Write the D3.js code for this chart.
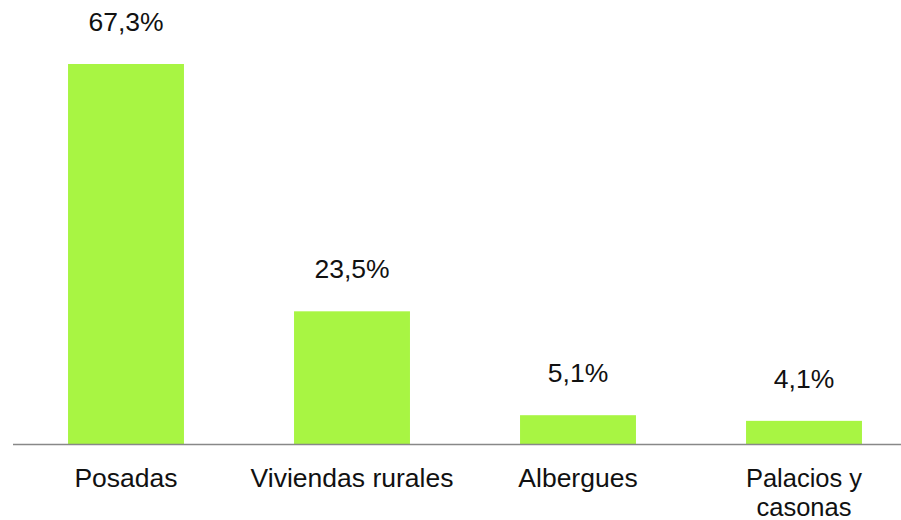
<!DOCTYPE html>
<html>
<head>
<meta charset="utf-8">
<script src="https://cdn.jsdelivr.net/npm/d3@7"></script>
<style>
  body { margin: 0; background: #fff; }
  text { font-family: "Liberation Sans", Arial, sans-serif; fill: #111; }
</style>
</head>
<body>
<svg id="chart"></svg>
<script>
const categories = ["Posadas", "Viviendas rurales", "Albergues", "Palacios y casonas"];
const catLines = [["Posadas"], ["Viviendas rurales"], ["Albergues"], ["Palacios y", "casonas"]];
const values = [67.3, 23.5, 5.1, 4.1];
const valueLabels = ["67,3%", "23,5%", "5,1%", "4,1%"];

const width = 901, height = 520;
const baseline = 444;

const svg = d3.select("#chart")
  .attr("width", width)
  .attr("height", height);

const x = d3.scaleBand()
  .domain(categories)
  .range([13, 917])
  .paddingInner(0.487)
  .paddingOuter(0.2435);

const y = d3.scaleLinear()
  .domain([0, 67.3])
  .range([baseline, 64]);

svg.selectAll("rect.bar")
  .data(values)
  .enter()
  .append("rect")
  .attr("class", "bar")
  .attr("x", (d, i) => x(categories[i]))
  .attr("y", d => y(d))
  .attr("width", x.bandwidth())
  .attr("height", d => baseline - y(d))
  .style("fill", "#a8f543");

// axis line
svg.append("line")
  .attr("x1", 13).attr("x2", 901)
  .attr("y1", baseline + 0.5).attr("y2", baseline + 0.5)
  .style("stroke", "#888")
  .style("stroke-width", 1.5);

svg.selectAll("text.val")
  .data(values)
  .enter()
  .append("text")
  .attr("class", "val")
  .attr("x", (d, i) => x(categories[i]) + x.bandwidth() / 2)
  .attr("y", d => y(d) - 33)
  .attr("text-anchor", "middle")
  .style("font-size", "26.5px")
  .text((d, i) => valueLabels[i]);

const cat = svg.selectAll("text.cat")
  .data(categories)
  .enter()
  .append("text")
  .attr("class", "cat")
  .attr("x", d => x(d) + x.bandwidth() / 2)
  .attr("y", 486.5)
  .attr("text-anchor", "middle")
  .style("font-size", (d, i) => catLines[i].length > 1 ? "25.5px" : "26.5px");

cat.each(function(d, i) {
  const t = d3.select(this);
  catLines[i].forEach((ln, j) => {
    t.append("tspan")
      .attr("x", x(d) + x.bandwidth() / 2)
      .attr("dy", j === 0 ? 0 : 29.5)
      .text(ln);
  });
});
</script>
</body>
</html>
